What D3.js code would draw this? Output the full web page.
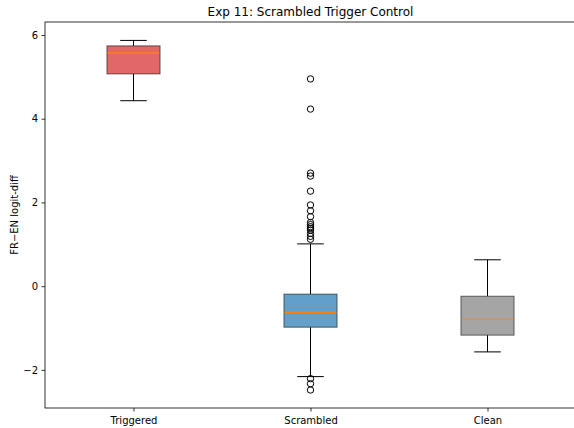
<!DOCTYPE html>
<html>
<head>
<meta charset="utf-8">
<script src="https://cdn.jsdelivr.net/npm/d3@7"></script>
<style>
  body { margin: 0; background: #fff; }
  svg { font-family: "DejaVu Sans", sans-serif; display: block; }
</style>
</head>
<body>
<div id="chart"></div>
<script>
// Box plot: FR-EN logit-diff per condition

const categories = ["Triggered", "Scrambled", "Clean"];
// [whisker low, q1, median, q3, whisker high]
const triggeredStats = [4.43, 5.07, 5.57, 5.74, 5.87];
const scrambledStats = [-2.16, -0.98, -0.62, -0.19, 1.01];
const cleanStats = [-1.57, -1.17, -0.79, -0.24, 0.63];
const scrambledOutliers = [4.95, 4.23, 2.70, 2.63, 2.27, 1.94, 1.80, 1.66, 1.52, 1.47, 1.42, 1.38, 1.34, 1.26, 1.19, 1.12, -2.21, -2.33, -2.48];
const boxColors = ["#d62728", "#1f77b4", "#7f7f7f"];
const yTicks = [-2, 0, 2, 4, 6];

const boxes = [
  { name: categories[0], stats: triggeredStats, outliers: [], color: boxColors[0] },
  { name: categories[1], stats: scrambledStats, outliers: scrambledOutliers, color: boxColors[1] },
  { name: categories[2], stats: cleanStats, outliers: [], color: boxColors[2] }
];

const W = 574, H = 428;
const margin = { top: 22, right: -2, bottom: 20, left: 45 };

const svg = d3.select("#chart").append("svg")
  .attr("width", W)
  .attr("height", H);

const x = d3.scaleLinear()
  .domain([0.5, 3.5])
  .range([margin.left, W - margin.right]);

const y = d3.scaleLinear()
  .domain([-2.91, 6.31])
  .range([H - margin.bottom, margin.top]);

const boxW = x(1.3) - x(1);
const capW = x(1.15) - x(1);

const g = svg.append("g");

boxes.forEach((b, i) => {
  const cx = x(i + 1);
  const [lo, q1, med, q3, hi] = b.stats;
  // whiskers
  g.append("line").attr("x1", cx).attr("x2", cx).attr("y1", y(q1)).attr("y2", y(lo))
    .attr("stroke", "#000").attr("stroke-width", 1);
  g.append("line").attr("x1", cx).attr("x2", cx).attr("y1", y(q3)).attr("y2", y(hi))
    .attr("stroke", "#000").attr("stroke-width", 1);
  // caps
  [lo, hi].forEach(v => {
    g.append("line").attr("x1", cx - capW / 2).attr("x2", cx + capW / 2)
      .attr("y1", y(v)).attr("y2", y(v))
      .attr("stroke", "#000").attr("stroke-width", 1);
  });
  // box
  g.append("rect")
    .attr("x", cx - boxW / 2)
    .attr("y", y(q3))
    .attr("width", boxW)
    .attr("height", y(q1) - y(q3))
    .attr("fill", b.color)
    .attr("fill-opacity", 0.7)
    .attr("stroke", "#000")
    .attr("stroke-opacity", 0.55)
    .attr("stroke-width", 1);
  // median
  g.append("line").attr("x1", cx - boxW / 2 + 0.5).attr("x2", cx + boxW / 2 - 0.5)
    .attr("y1", y(med)).attr("y2", y(med))
    .attr("stroke", "#ff7f0e")
    .attr("stroke-width", i === 2 ? 1 : 1.5)
    .attr("stroke-opacity", i === 2 ? 0.8 : 1);
  // fliers
  g.selectAll(null).data(b.outliers).join("circle")
    .attr("cx", cx)
    .attr("cy", d => y(d))
    .attr("r", 3.2)
    .attr("fill", "none")
    .attr("stroke", "#000")
    .attr("stroke-width", 1);
});

// axes
const yAxis = svg.append("g")
  .attr("transform", `translate(${margin.left},0)`)
  .call(d3.axisLeft(y).tickValues(yTicks).tickSize(3.5).tickPadding(3.5)
    .tickFormat(d => d < 0 ? "\u2212" + Math.abs(d) : d));
const xAxis = svg.append("g")
  .attr("transform", `translate(0,${H - margin.bottom})`)
  .call(d3.axisBottom(x).tickValues([1, 2, 3]).tickSize(3.5).tickPadding(5)
    .tickFormat(d => categories[d - 1]));

[yAxis, xAxis].forEach(a => {
  a.select(".domain").remove();
  a.selectAll("line").attr("stroke", "#000").attr("stroke-width", 0.8);
  a.selectAll("text").attr("font-size", "10px").attr("fill", "#000")
    .attr("font-family", "DejaVu Sans, sans-serif");
});

// spines
svg.append("rect")
  .attr("x", margin.left)
  .attr("y", margin.top)
  .attr("width", W - margin.right - margin.left)
  .attr("height", H - margin.bottom - margin.top)
  .attr("fill", "none")
  .attr("stroke", "#000")
  .attr("stroke-width", 0.8);

// title
svg.append("text")
  .attr("x", (margin.left + W - margin.right) / 2)
  .attr("y", 16)
  .attr("text-anchor", "middle")
  .attr("font-size", "12px")
  .attr("fill", "#000")
  .text("Exp 11: Scrambled Trigger Control");

// y label
svg.append("text")
  .attr("transform", `translate(18,${(margin.top + H - margin.bottom) / 2}) rotate(-90)`)
  .attr("text-anchor", "middle")
  .attr("font-size", "10px")
  .attr("fill", "#000")
  .text("FR\u2212EN logit-diff");
</script>
</body>
</html>
